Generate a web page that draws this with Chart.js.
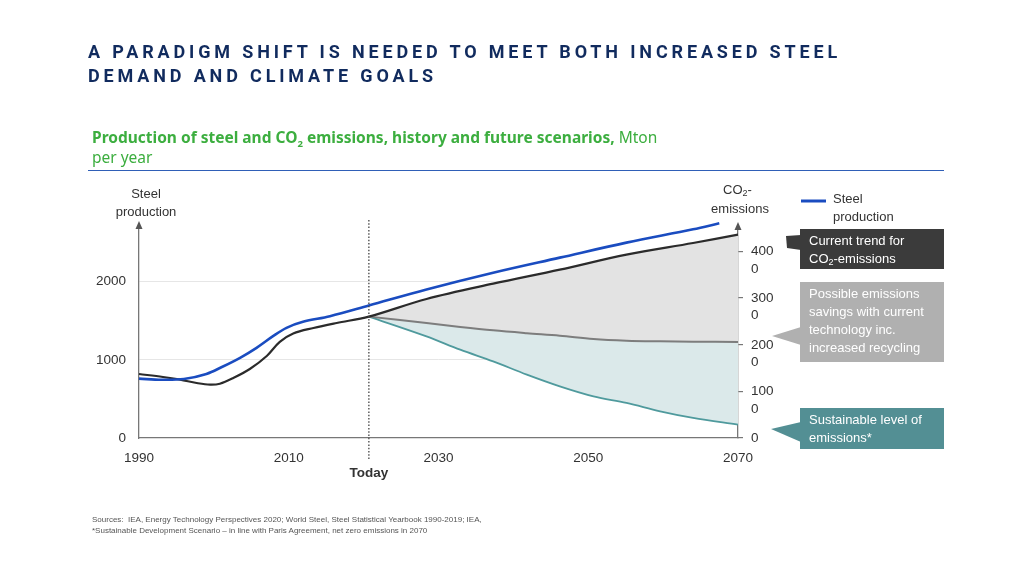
<!DOCTYPE html>
<html><head><meta charset="utf-8">
<script src="https://cdn.jsdelivr.net/npm/chart.js@4.4.1/dist/chart.umd.min.js"></script>
<style>
html,body{margin:0;padding:0;background:#fff;width:1024px;height:575px;overflow:hidden;}
#c{position:absolute;left:0;top:0;}
.title{position:absolute;left:88px;top:40px;font-family:Roboto,"Liberation Sans",sans-serif;font-weight:700;font-size:18px;letter-spacing:3.85px;line-height:24px;color:#112b5e;white-space:nowrap;}
.sub{position:absolute;left:92px;top:127px;font-family:"Noto Sans",sans-serif;font-size:15.5px;line-height:20px;color:#3cae3f;white-space:nowrap;letter-spacing:0;}
.sub b{font-weight:700;}
.rule{position:absolute;left:88px;top:170px;width:856px;height:0;border-top:1.5px solid #2f5fb7;}
.src{position:absolute;left:92px;top:515px;font-family:"Liberation Sans",sans-serif;font-size:8px;line-height:10.5px;color:#555;white-space:nowrap;}
</style></head><body>
<canvas id="c" width="1024" height="575"></canvas>
<div class="title">A PARADIGM SHIFT IS NEEDED TO MEET BOTH INCREASED STEEL<br>DEMAND AND CLIMATE GOALS</div>
<div class="sub"><b>Production of steel and CO<sub style="font-size:9.5px;line-height:0">2</sub> emissions, history and future scenarios,</b> Mton<br>per year</div>
<div class="rule"></div>
<div class="src">Sources:&nbsp; IEA, Energy Technology Perspectives 2020; World Steel, Steel Statistical Yearbook 1990-2019; IEA,<br>*Sustainable Development Scenario – in line with Paris Agreement, net zero emissions in 2070</div>
<script>
// ---- data ----
const steelYears  = [1990, 1993, 1996, 1999, 2001, 2003.5, 2005.7, 2007.9, 2009.7, 2011.9, 2015.5, 2020.7, 2028.4, 2037.3, 2046.2, 2055.1, 2064.0, 2067.5];
const steelValues = [760, 745, 755, 820, 905, 1026, 1154, 1303, 1410, 1487, 1559, 1696, 1901, 2115, 2308, 2500, 2670, 2747];

const co2Years    = [1990, 1993.2, 1995.5, 1997.7, 1999.5, 2000.8, 2002.6, 2004.8, 2007.1, 2008.8, 2010.6, 2013.3, 2016.4, 2020.7, 2028.4, 2037.3, 2046.2, 2055.1, 2064.0, 2070];
const co2Trend    = [1371, 1307, 1249, 1178, 1142, 1163, 1286, 1478, 1763, 2060, 2240, 2357, 2464, 2600, 2978, 3306, 3606, 3928, 4178, 4356];

const futureYears = [2020.7, 2028.4, 2032.9, 2037.3, 2041.8, 2046.2, 2050.7, 2055.1, 2059.6, 2064.0, 2070];
const co2Savings  = [2600, 2464, 2380, 2306, 2245, 2192, 2121, 2085, 2070, 2062, 2057];
const co2Sustain  = [2600, 2177, 1892, 1641, 1357, 1106, 891, 750, 570, 429, 285];

const xTicks  = [1990, 2010, 2030, 2050, 2070];
const yTicks  = [0, 1000, 2000];
const y2Ticks = [0, 1000, 2000, 3000, 4000];
const TODAY = 2020.7;

const pts = (xs, ys) => xs.map((x, i) => ({x, y: ys[i]}));
const FONT = '"Liberation Sans", Arial, sans-serif';

const overlay = {
  id: 'overlay',
  afterDraw(chart) {
    const ctx = chart.ctx, x = chart.scales.x;
    const ca = chart.chartArea;
    ctx.save();
    // today dotted line
    const tx = x.getPixelForValue(TODAY);
    ctx.strokeStyle = '#444'; ctx.lineWidth = 1.3; ctx.setLineDash([1.5, 1.8]);
    ctx.beginPath(); ctx.moveTo(tx, 220); ctx.lineTo(tx, 459); ctx.stroke();
    ctx.setLineDash([]);
    // axis arrows
    ctx.fillStyle = '#555';
    [[ca.left, ca.top - 1], [ca.right, ca.top]].forEach(([ax, ay]) => {
      ctx.beginPath(); ctx.moveTo(ax, ay - 5); ctx.lineTo(ax - 3.5, ay + 3); ctx.lineTo(ax + 3.5, ay + 3); ctx.closePath(); ctx.fill();
    });
    // Today label
    ctx.fillStyle = '#333'; ctx.font = 'bold 13.5px ' + FONT; ctx.textAlign = 'center'; ctx.textBaseline = 'middle';
    ctx.fillText('Today', tx, 473);
    // axis titles
    ctx.font = '13px ' + FONT; ctx.fillStyle = '#333';
    ctx.fillText('Steel', 146, 194);
    ctx.fillText('production', 146, 212);
    ctx.fillText('emissions', 740, 209);
    ctx.textAlign = 'left';
    ctx.fillText('CO', 723, 190);
    let w = ctx.measureText('CO').width;
    ctx.font = '9px ' + FONT; ctx.fillText('2', 723 + w, 194);
    let w2 = ctx.measureText('2').width;
    ctx.font = '13px ' + FONT; ctx.fillText('-', 723 + w + w2, 190);
    // legend
    ctx.strokeStyle = '#1a4cc0'; ctx.lineWidth = 3;
    ctx.beginPath(); ctx.moveTo(801, 201); ctx.lineTo(826, 201); ctx.stroke();
    ctx.fillStyle = '#333'; ctx.font = '13px ' + FONT;
    ctx.fillText('Steel', 833, 199);
    ctx.fillText('production', 833, 217);
    // callouts
    function box(color, bx, by, bw, bh, ptr, lines) {
      ctx.fillStyle = color;
      ctx.beginPath(); ctx.moveTo(ptr[0][0], ptr[0][1]);
      for (let i = 1; i < ptr.length; i++) ctx.lineTo(ptr[i][0], ptr[i][1]);
      ctx.closePath(); ctx.fill();
      ctx.fillRect(bx, by, bw, bh);
      ctx.fillStyle = '#fff'; ctx.font = '13px ' + FONT; ctx.textAlign = 'left'; ctx.textBaseline = 'middle';
      lines.forEach((l, i) => {
        const ly = by + 12 + i * 18;
        if (Array.isArray(l)) {
          let cx = bx + 9;
          l.forEach(seg => {
            if (seg.sub) { ctx.font = '9px ' + FONT; ctx.fillText(seg.t, cx, ly + 4); cx += ctx.measureText(seg.t).width; ctx.font = '13px ' + FONT; }
            else { ctx.fillText(seg.t, cx, ly); cx += ctx.measureText(seg.t).width; }
          });
        } else ctx.fillText(l, bx + 9, ly);
      });
    }
    box('#3b3b3b', 800, 229, 144, 40, [[786, 236], [801, 235], [801, 250], [787, 248]],
        ['Current trend for', [{t: 'CO'}, {t: '2', sub: true}, {t: '-emissions'}]]);
    box('#b0b0b0', 800, 282, 144, 80, [[772, 336], [801, 327], [801, 345]],
        ['Possible emissions', 'savings with current', 'technology inc.', 'increased recycling']);
    box('#538f94', 800, 408, 144, 41, [[771, 429], [801, 422], [801, 442]],
        ['Sustainable level of', 'emissions*']);
    ctx.restore();
  }
};

const lineBase = {pointRadius: 0, tension: 0.35, clip: false};

new Chart(document.getElementById('c'), {
  type: 'line',
  data: {
    datasets: [
      Object.assign({label: 'Steel production', data: pts(steelYears, steelValues), yAxisID: 'y', borderColor: '#1a4cc0', borderWidth: 2.6, fill: false}, lineBase),
      Object.assign({label: 'Current trend', data: pts(co2Years, co2Trend), yAxisID: 'y2', borderColor: '#2b2b2b', borderWidth: 2.2, fill: false}, lineBase),
      Object.assign({label: 'Savings', data: pts(futureYears, co2Savings), yAxisID: 'y2', borderColor: '#7d7d7d', borderWidth: 2, fill: {target: 1}, backgroundColor: '#e3e3e3'}, lineBase),
      Object.assign({label: 'Sustainable', data: pts(futureYears, co2Sustain), yAxisID: 'y2', borderColor: '#4f9a9d', borderWidth: 1.8, fill: {target: 2}, backgroundColor: '#dbe9ea'}, lineBase)
    ]
  },
  options: {
    responsive: false, animation: false, devicePixelRatio: 1,
    layout: {padding: {left: 0, right: 0, top: 227, bottom: 0}},
    plugins: {legend: {display: false}, tooltip: {enabled: false}},
    scales: {
      x: {
        type: 'linear', min: 1990, max: 2070,
        afterBuildTicks: s => { s.ticks = xTicks.map(v => ({value: v})); },
        afterFit: s => { s.height = 137; },
        grid: {display: false, drawTicks: false},
        border: {color: '#777', width: 1.3},
        ticks: {color: '#333', font: {family: FONT, size: 13.5}, padding: 12, maxRotation: 0, callback: v => String(v)}
      },
      y: {
        position: 'left', min: 0, max: 2700,
        afterBuildTicks: s => { s.ticks = yTicks.map(v => ({value: v})); },
        afterFit: s => { s.width = 139; },
        grid: {color: c => c.tick && c.tick.value === 0 ? 'rgba(0,0,0,0)' : '#e6e6e6', drawTicks: false, lineWidth: 1},
        border: {color: '#777', width: 1.3},
        ticks: {color: '#333', font: {family: FONT, size: 13.5}, padding: 13, callback: v => String(v)}
      },
      y2: {
        position: 'right', min: 0, max: 4520,
        afterBuildTicks: s => { s.ticks = y2Ticks.map(v => ({value: v})); },
        afterFit: s => { s.width = 286; },
        grid: {drawOnChartArea: false, drawTicks: true, tickLength: 5, color: '#777', lineWidth: 1.2},
        border: {color: '#777', width: 1.3},
        ticks: {color: '#333', font: {family: FONT, size: 13.5, lineHeight: 1.3}, padding: 8, labelOffset: 9,
          callback: v => { const s = String(v); return s.length > 3 ? [s.slice(0, 3), s.slice(3)] : [s, '']; }}
      }
    }
  },
  plugins: [overlay]
});
</script>
</body></html>
